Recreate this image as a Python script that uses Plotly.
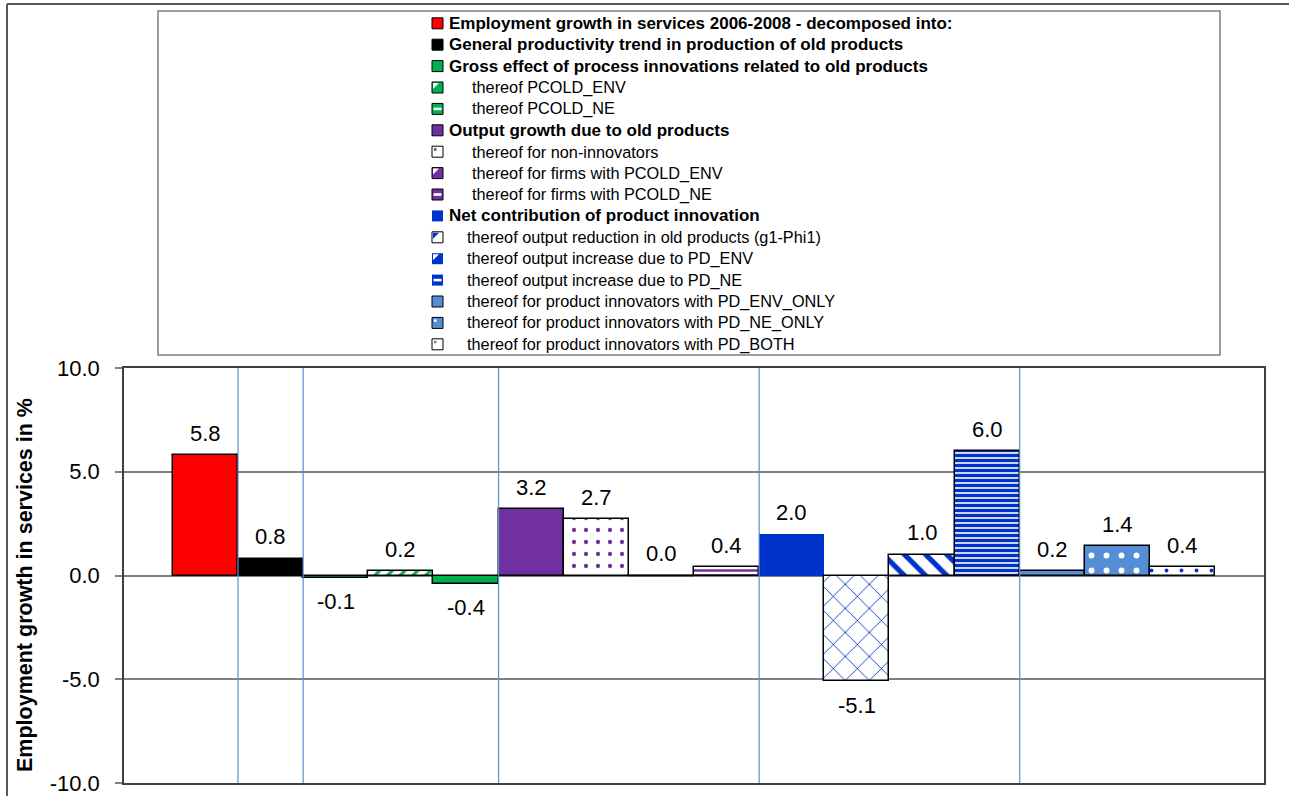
import plotly.graph_objects as go

# ---------------- data ----------------
legend_labels = [
    "Employment growth in services 2006-2008 - decomposed into:",
    "General productivity trend in production of old products",
    "Gross effect of process innovations related to old products",
    "thereof PCOLD_ENV",
    "thereof PCOLD_NE",
    "Output growth due to old products",
    "thereof for non-innovators",
    "thereof for firms with PCOLD_ENV",
    "thereof for firms with PCOLD_NE",
    "Net contribution of product innovation",
    "thereof output reduction in old products (g1-Phi1)",
    "thereof output increase due to PD_ENV",
    "thereof output increase due to PD_NE",
    "thereof for product innovators with PD_ENV_ONLY",
    "thereof for product innovators with PD_NE_ONLY",
    "thereof for product innovators with PD_BOTH",
]
values = [5.8, 0.8, -0.1, 0.2, -0.4, 3.2, 2.7, 0.0, 0.4, 2.0, -5.1, 1.0, 6.0, 0.2, 1.4, 0.4]
y_ticks = [-10, -5, 0, 5, 10]
y_tick_labels = ["-10.0", "-5.0", "0.0", "5.0", "10.0"]
separators = [0.5, 1.5, 4.5, 8.5, 12.5]  # group boundaries between bars
bold_rows = [0, 1, 2, 5, 9]

# ---------------- styles ----------------
RED, BLACK, GREEN, PURPLE, BLUE, LBLUE = "#FF0000", "#000000", "#00B050", "#7030A0", "#0033CC", "#558ED5"
FONT = "Liberation Sans"

bar_color = [RED, BLACK, GREEN, "white", GREEN, PURPLE, "white", "white", "white", BLUE,
             "white", "white", "white", LBLUE, LBLUE, "white"]
pat_shape = ["", "", "", "/", "", "", ".", "", "-", "", "x", "\\", "-", "", ".", "."]
pat_fg = ["black", "black", "black", GREEN, GREEN, "black", PURPLE, PURPLE, PURPLE, "black",
          BLUE, BLUE, BLUE, "black", "white", BLUE]
pat_size = [8, 8, 8, 9, 6, 8, 12, 8, 5, 8, 17, 15, 5, 8, 15, 15]
pat_sol = [0.3, 0.3, 0.3, 0.35, 0.65, 0.3, 0.1, 0.3, 0.5, 0.3, 0.1, 0.35, 0.68, 0.3, 0.12, 0.05]
line_w = [1.5] * 16
line_w[9] = 0

sw_base = [RED, BLACK, GREEN, GREEN, GREEN, PURPLE, "white", PURPLE, PURPLE, BLUE,
           "white", BLUE, BLUE, LBLUE, LBLUE, "white"]
sw_mark = [None, None, None, ("tri", "white"), ("stripe", "white"), None, ("dot", PURPLE),
           ("tri", "white"), ("stripe", "white"), None, ("tri", BLUE), ("tri", "white"),
           ("stripe", "white"), None, ("dot", "white"), ("dot", LBLUE)]

W, H = 1289, 796
def px(x):
    return x / W
def py(y):
    return 1 - y / H

PLOT_L, PLOT_R, PLOT_T, PLOT_B = 124, 1264, 368, 783

fig = go.Figure()
for i, v in enumerate(values):
    marker = dict(color=bar_color[i], line=dict(color="black", width=line_w[i]))
    if pat_shape[i]:
        marker["pattern"] = dict(shape=pat_shape[i], fgcolor=pat_fg[i], fgopacity=1,
                                 size=pat_size[i], solidity=pat_sol[i], fillmode="overlay")
    fig.add_trace(go.Bar(x=[i], y=[v], width=1, marker=marker, name=legend_labels[i],
                         showlegend=False, hoverinfo="skip"))

# invisible full-figure pixel axes used for the chart-area frame
fig.add_trace(go.Scatter(x=[W], y=[H], xaxis="x2", yaxis="y2", mode="markers",
                         marker=dict(opacity=0), showlegend=False, hoverinfo="skip"))

shapes = []
annotations = []

# group separators
for s in separators:
    shapes.append(dict(type="line", xref="x", yref="paper", x0=s, x1=s,
                       y0=py(PLOT_B), y1=py(PLOT_T), line=dict(color="#5B8FD0", width=1.2),
                       layer="above"))

# zero-height bars are drawn as their outline
for i, v in enumerate(values):
    if v == 0:
        shapes.append(dict(type="line", xref="x", yref="y", x0=i - 0.5, x1=i + 0.5,
                           y0=v, y1=v, line=dict(color="black", width=1.5)))

# data labels
for i, v in enumerate(values):
    annotations.append(dict(x=i, y=v, xref="x", yref="y", text=f"{v:.1f}", showarrow=False,
                            yanchor="middle", yshift=22 if v >= 0 else -24,
                            font=dict(family=FONT, size=22, color="black")))

# axis title
annotations.append(dict(x=px(25), y=py(585), xref="paper", yref="paper",
                        text="<b>Employment growth in services in %</b>", textangle=-90,
                        showarrow=False, xanchor="center", yanchor="middle",
                        font=dict(family=FONT, size=21.5, color="black")))

# outer chart border (top and left edges visible)
shapes.append(dict(type="line", xref="x2", yref="y2", x0=7, x1=W + 5, y0=4, y1=4,
                   line=dict(color="#595959", width=2)))
shapes.append(dict(type="line", xref="x2", yref="y2", x0=7, x1=7, y0=4, y1=H + 5,
                   line=dict(color="#595959", width=2)))
# legend box
shapes.append(dict(type="rect", xref="paper", yref="paper", x0=px(158), x1=px(1220),
                   y0=py(11), y1=py(355), line=dict(color="#7F7F7F", width=1.5)))

# legend entries
ROW0, DROW = 23.3, 21.4
SX0, SX1 = 432, 443
for i, lab in enumerate(legend_labels):
    cy = ROW0 + DROW * i
    ya, yb = cy - 5.5, cy + 5.5
    bw = 0 if sw_base[i] == BLUE else 1
    shapes.append(dict(type="rect", xref="paper", yref="paper", x0=px(SX0), x1=px(SX1),
                       y0=py(yb), y1=py(ya), fillcolor=sw_base[i],
                       line=dict(color="black", width=bw)))
    m = sw_mark[i]
    if m is not None:
        kind, col = m
        if kind == "tri":
            path = (f"M {px(SX0+1)},{py(ya+1)} L {px(SX1-4)},{py(ya+1)} "
                    f"L {px(SX0+1)},{py(yb-4)} Z")
            shapes.append(dict(type="path", xref="paper", yref="paper", path=path,
                               fillcolor=col, line=dict(width=0)))
        elif kind == "stripe":
            shapes.append(dict(type="rect", xref="paper", yref="paper", x0=px(SX0+1.5),
                               x1=px(SX1-1.5), y0=py(cy + 1.3), y1=py(cy - 1.3),
                               fillcolor=col, line=dict(width=0)))
        elif kind == "dot":
            shapes.append(dict(type="rect", xref="paper", yref="paper", x0=px(SX0+2),
                               x1=px(SX0+4.5), y0=py(ya + 4.5), y1=py(ya + 2),
                               fillcolor=col, line=dict(width=0)))
    bold = i in bold_rows
    if bold:
        tx = 447
    elif i < 9:
        tx = 470
    else:
        tx = 465
    annotations.append(dict(x=px(tx), y=py(cy), xref="paper", yref="paper",
                            text=f"<b>{lab}</b>" if bold else lab, showarrow=False,
                            xanchor="left", yanchor="middle",
                            font=dict(family=FONT, size=17 if bold else 16.3, color="black")))

fig.update_layout(
    width=W, height=H,
    margin=dict(l=0, r=0, t=0, b=0, pad=0, autoexpand=False),
    paper_bgcolor="white", plot_bgcolor="rgba(0,0,0,0)",
    bargap=0, barmode="overlay",
    showlegend=False,
    xaxis=dict(domain=[px(PLOT_L), px(PLOT_R)], range=[-1.25, 16.25], showgrid=False,
               zeroline=False, showticklabels=False, ticks="", showline=True, mirror=True,
               linecolor="#404040", linewidth=1.5, fixedrange=True, automargin=False),
    yaxis=dict(domain=[py(PLOT_B), py(PLOT_T)], range=[-10, 10], tickvals=y_ticks,
               ticktext=y_tick_labels, showgrid=True, gridcolor="#808080", gridwidth=1.5,
               zeroline=True, zerolinecolor="#808080", zerolinewidth=1.5,
               ticks="outside", ticklen=7, tickcolor="#808080", tickwidth=1.5,
               ticklabelstandoff=11, automargin=False,
               tickfont=dict(family=FONT, size=22, color="black"),
               showline=True, mirror=True, linecolor="#404040", linewidth=1.5,
               fixedrange=True),
    xaxis2=dict(domain=[0, 1], range=[0, W], anchor="y2", visible=False,
                fixedrange=True, automargin=False),
    yaxis2=dict(domain=[0, 1], range=[H, 0], anchor="x2", visible=False,
                fixedrange=True, automargin=False),
    shapes=shapes,
    annotations=annotations,
    font=dict(family=FONT),
)

fig.write_html("out.html", config={"displayModeBar": False})
